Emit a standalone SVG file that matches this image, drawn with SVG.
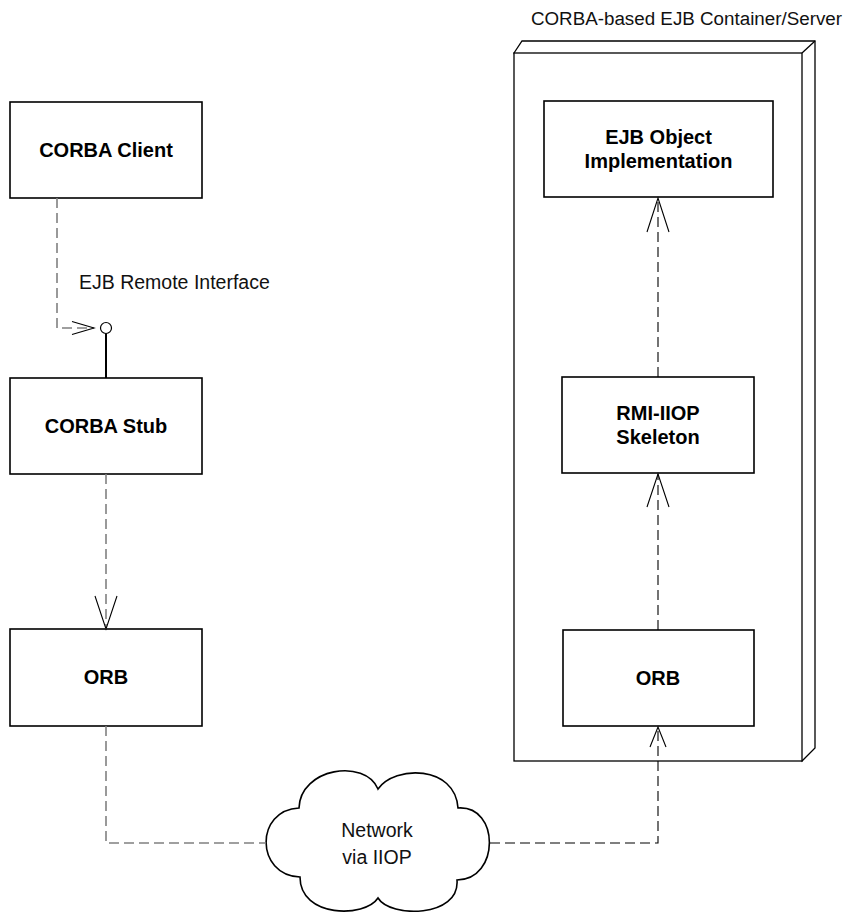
<svg xmlns="http://www.w3.org/2000/svg" width="856" height="912" viewBox="0 0 856 912">
<style>
.box{fill:#fff;stroke:#000;stroke-width:1.6}
.lbl{font-family:"Liberation Sans",Arial,sans-serif;font-size:20px;font-weight:bold;text-anchor:middle;fill:#000}
.txt{font-family:"Liberation Sans",Arial,sans-serif;font-size:19.5px;fill:#111}
.ttl{font-family:"Liberation Sans",Arial,sans-serif;font-size:18.8px;fill:#111;text-anchor:end}
.dg{fill:none;stroke:#808080;stroke-width:1.6;stroke-dasharray:10,5}
.dk{fill:none;stroke:#000;stroke-width:1.1;stroke-dasharray:10,5}
.head{fill:none;stroke:#000;stroke-width:1.1}
.cont{fill:#fff;stroke:#000;stroke-width:1.3}
</style>
<rect width="856" height="912" fill="#fff"/>
<g id="container">
<path class="cont" d="M514,53 L522,41 L815,41 L815,748 L802,761 Z"/>
<rect class="cont" x="514" y="53" width="288" height="708"/>
<line x1="802" y1="53" x2="815" y2="41" stroke="#000" stroke-width="1.3"/>
<text class="ttl" x="842" y="25">CORBA-based EJB Container/Server</text>
</g>
<g id="corba-client">
<rect class="box" x="10" y="102" width="192" height="96"/>
<text class="lbl" x="106" y="157">CORBA Client</text>
</g>
<g id="corba-stub">
<rect class="box" x="10" y="378" width="192" height="96"/>
<text class="lbl" x="106" y="433">CORBA Stub</text>
</g>
<g id="orb-left">
<rect class="box" x="10" y="629" width="192" height="97"/>
<text class="lbl" x="106" y="684">ORB</text>
</g>
<g id="ejb-object">
<rect class="box" x="544" y="101" width="229" height="96"/>
<text class="lbl" x="658.5" y="144">EJB Object</text>
<text class="lbl" x="658.5" y="168">Implementation</text>
</g>
<g id="skeleton">
<rect class="box" x="562" y="377" width="192" height="96"/>
<text class="lbl" x="658" y="420">RMI-IIOP</text>
<text class="lbl" x="658" y="444">Skeleton</text>
</g>
<g id="orb-right">
<rect class="box" x="563" y="630" width="191" height="96"/>
<text class="lbl" x="658" y="685">ORB</text>
</g>
<g id="network">
<path fill="#fff" stroke="#000" stroke-width="1.6" d="M299,808 C300,768 365,758 378,789 C395,765 455,765 458,808 C500,805 500,880 457,880 C460,918 390,918 378,898 C365,918 300,918 300,877 C255,875 255,810 299,808 Z"/>
<text class="txt" x="377" y="837" text-anchor="middle">Network</text>
<text class="txt" x="377" y="864" text-anchor="middle">via IIOP</text>
</g>
<g id="connectors">
<path class="dg" d="M57,198 L57,328 L94,328"/>
<polyline class="head" points="72,321.5 94,328 72,334.5"/>
<circle cx="106" cy="328" r="5.5" fill="#fff" stroke="#000" stroke-width="1.2"/>
<line x1="106" y1="333.5" x2="106" y2="378" stroke="#000" stroke-width="2"/>
<text class="txt" x="79" y="289">EJB Remote Interface</text>
<line class="dg" x1="106" y1="474" x2="106" y2="629"/>
<polyline class="head" points="95,596 106,629 117,596"/>
<path class="dg" d="M106,726 L106,843 L266,843"/>
<path class="dk" d="M490,843 L658,843 L658,727"/>
<polyline class="head" points="650,747 658,727 666,747"/>
<line class="dk" x1="658" y1="630" x2="658" y2="474"/>
<polyline class="head" points="647,507 658,474 669,507"/>
<line class="dk" x1="658" y1="377" x2="658" y2="198"/>
<polyline class="head" points="647,232 658,198 669,232"/>
</g>
</svg>
